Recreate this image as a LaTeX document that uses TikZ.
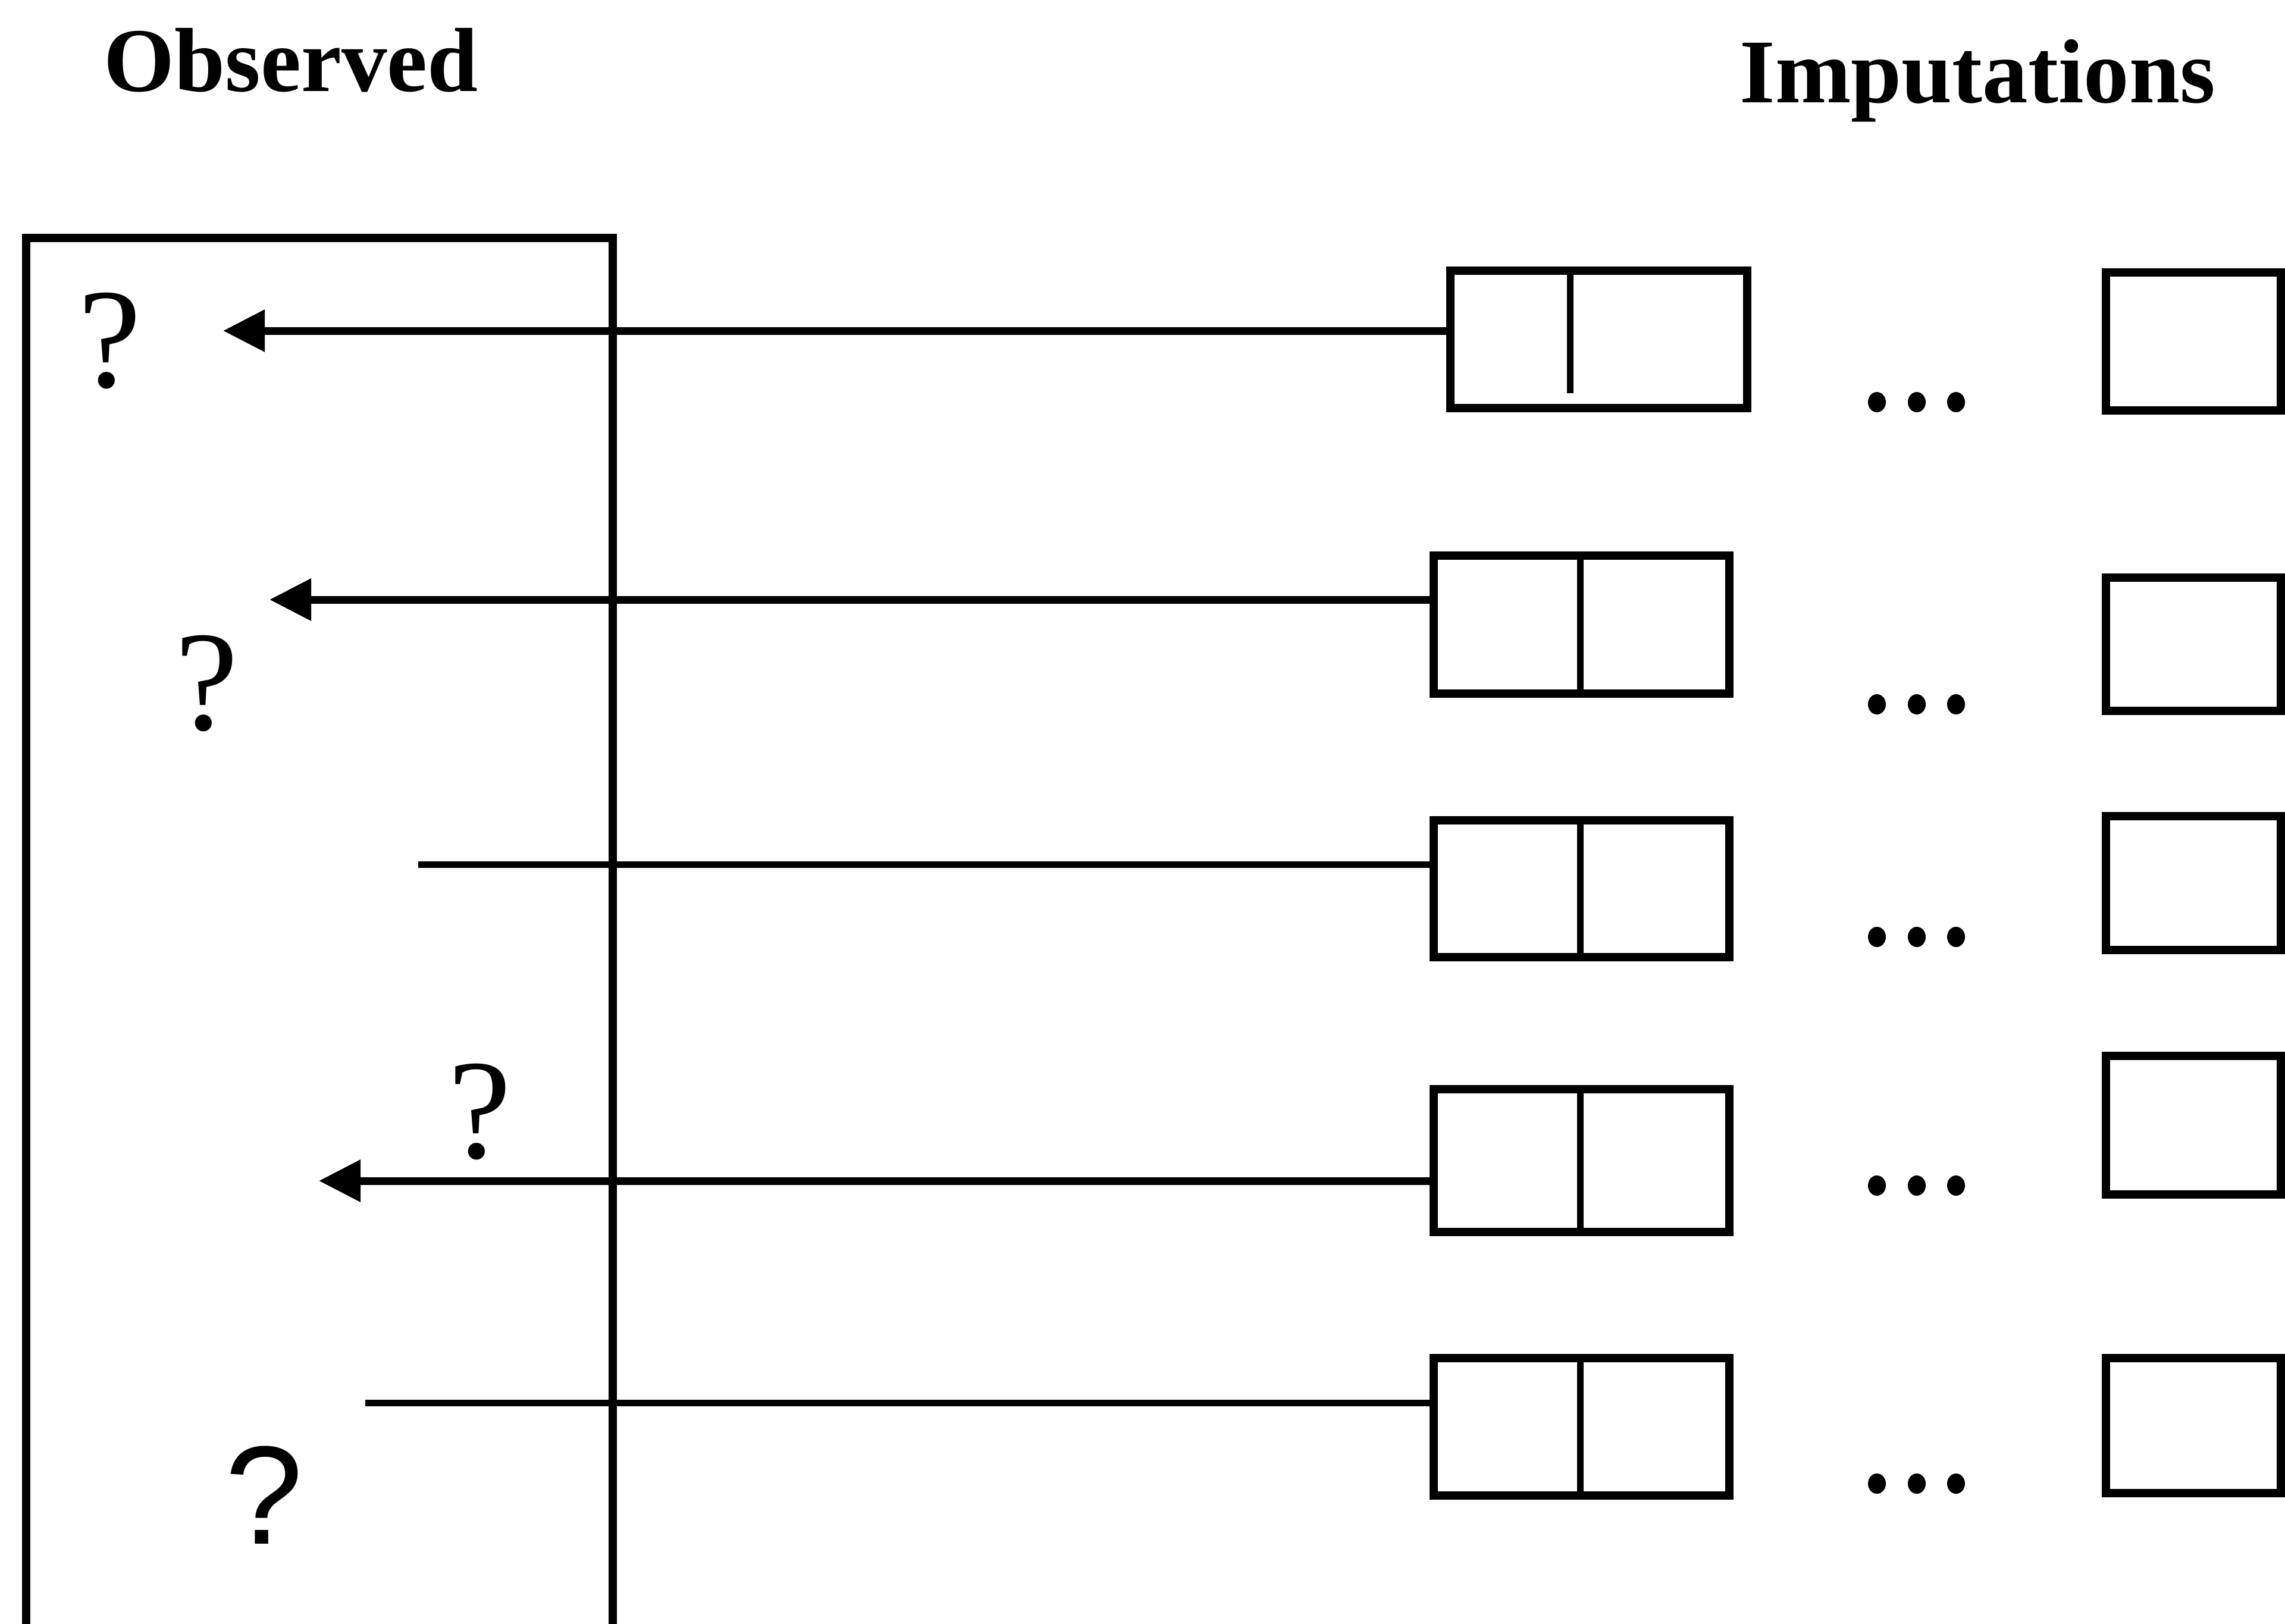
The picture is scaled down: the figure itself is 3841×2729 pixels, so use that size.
\documentclass[tikz,border=0pt]{standalone}
\usepackage{fontspec}
\setmainfont{Liberation Serif}
\newfontfamily\qsans{Liberation Sans}
\usetikzlibrary{arrows.meta}
\begin{document}
\begin{tikzpicture}[x=0.01cm,y=-0.01cm,
  lw/.style={line width=0.14cm},
  thin line/.style={line width=0.11cm},
  arr/.style={line width=0.13cm,-{Triangle[length=0.7cm,width=0.68cm]}},
  pair/.style={draw,line width=0.14cm,inner sep=0pt,minimum width=4.97cm,minimum height=2.32cm},
  single/.style={draw,line width=0.14cm,inner sep=0pt,minimum width=2.94cm},
  head/.style={inner sep=0pt,anchor=base west,font=\fontsize{43.5pt}{50pt}\selectfont\bfseries},
  qm/.style={inner sep=0pt,font=\fontsize{68pt}{70pt}\selectfont},
  qms/.style={inner sep=0pt,font=\fontsize{67pt}{70pt}\selectfont\qsans},
  dot/.style={fill=black}]
\fill[white] (0,0) rectangle (3841,2729);
\useasboundingbox (0,0) rectangle (3841,2729);

% headings
\node[head] (hobs) at (174,153) {Observed};
\node[head] (himp) at (2924,172) {Imputations};

% observed data frame (open at the bottom)
\draw[lw] (44,2745) -- (44,400) -- (1030,400) -- (1030,2745);

% question marks
\node[qm] (q1) at (185,573) {?};
\node[qm] (q2) at (348,1149) {?};
\node[qm] (q3) at (807,1869) {?};
\node[qms] (q4) at (444,2513) {?};

% imputation boxes (two cells)
\node[pair,minimum width=4.99cm,minimum height=2.31cm] (b1) at (2687.5,570.5) {};
\node[pair] (b2) at (2658.5,1050) {};
\node[pair,minimum height=2.30cm] (b3) at (2658.5,1494) {};
\node[pair,minimum height=2.40cm] (b4) at (2658.5,1951) {};
\node[pair,minimum height=2.31cm] (b5) at (2658.5,2398.5) {};

% dividers
\coordinate (dv1) at (2639,661);
\coordinate (dx) at (2656,0);
\draw[thin line] (b1.north -| dv1) -- (dv1);
\foreach \b in {b2,b3,b4,b5}{
  \draw[thin line] (\b.north -| dx) -- (\b.south -| dx);
}

% last imputation boxes
\node[single,minimum height=2.32cm] (r1) at (3687,574) {};
\node[single,minimum height=2.24cm] (r2) at (3687,1083) {};
\node[single,minimum height=2.25cm] (r3) at (3687,1484.5) {};
\node[single,minimum height=2.33cm] (r4) at (3687,1891.5) {};
\node[single,minimum height=2.27cm] (r5) at (3687,2396.5) {};

% ellipsis dots
\foreach \yy in {676,1184,1575,1993,2494}{
  \foreach \xx in {3155,3222,3288}{
    \fill[dot] (\xx,\yy) ellipse [x radius=0.15cm,y radius=0.17cm];
  }
}

% connectors
\coordinate (t1) at (375,556);
\coordinate (t2) at (453,1008);
\coordinate (s3) at (703,1453);
\coordinate (t4) at (536,1985);
\coordinate (s5) at (614,2358);
\draw[arr] (b1.west |- t1) -- (t1);
\draw[arr] (b2.west |- t2) -- (t2);
\draw[thin line] (b3.west |- s3) -- (s3);
\draw[arr] (b4.west |- t4) -- (t4);
\draw[thin line] (b5.west |- s5) -- (s5);
\end{tikzpicture}
\end{document}
